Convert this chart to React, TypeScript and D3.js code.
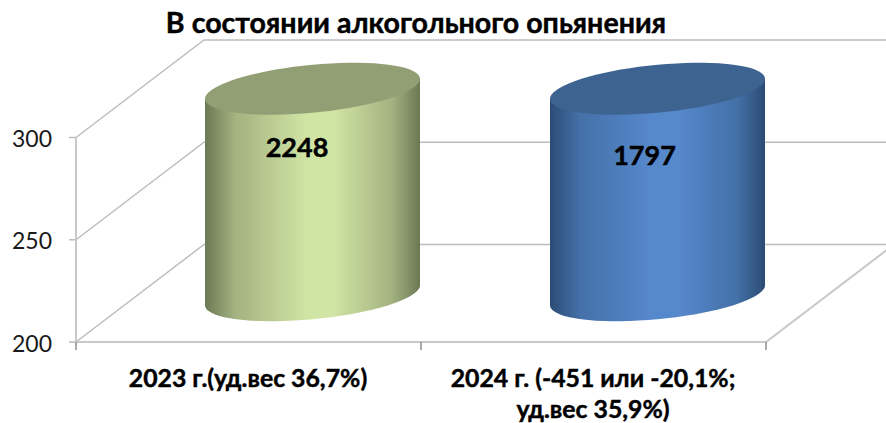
import React from "react";
import * as d3 from "d3";

const title = "В состоянии алкогольного опьянения";
const categories = ["2023 г.(уд.вес 36,7%)", "2024 г. (-451 или -20,1%;|уд.вес 35,9%)"];
const values = [2248, 1797];
const valueLabels = ["2248", "1797"];
const ticks = [200, 250, 300];
const labelOffsets = [-15.5, -13];
const palettes = [
  { edge: "#6b7953", mid: "#d0e4a4", near: "#a3b280", top: "#929f74" },
  { edge: "#2c4c75", mid: "#5688cc", near: "#4470a8", top: "#3e6491" },
];

const FONT = "Lato, 'Open Sans', sans-serif";
const W = 886, H = 423;
const DX = 128, DY = -97.5;
const GRID = "#bdbdbd";

const x = d3.scaleBand<number>().domain([0, 1]).range([76, 766]);
const y = d3.scaleLinear().domain([200, 300]).range([342, 137.5]).clamp(true);

export default function App() {
  const rx = 107.5, ry = 24, shear = 10;
  const ellipse = (cx: number, cy: number) => {
    const pts = d3.range(0, 73).map((i) => {
      const t = (i / 72) * 2 * Math.PI;
      return [cx + rx * Math.cos(t), cy + ry * Math.sin(t) - shear * Math.cos(t)] as [number, number];
    });
    return d3.line()(pts) + "Z";
  };
  const body = (cx: number, top: number, bottom: number) => {
    const front = d3.range(0, 37).map((i) => {
      const t = (i / 36) * Math.PI;
      return [cx + rx * Math.cos(t), bottom + ry * Math.sin(t) - shear * Math.cos(t)] as [number, number];
    });
    const l = d3.line()(front)!;
    return `M${cx + rx},${top - shear}L${cx + rx},${bottom - shear}${l.replace(/^M/, "L")}L${cx - rx},${top + shear}Z`;
  };
  const x0 = x.range()[0], x1 = x.range()[1];
  const heavy = { stroke: "#000", strokeWidth: 0.45 };
  return (
    <svg width={W} height={H} style={{ position: "absolute", left: 0, top: 0 }} fontFamily={FONT}>
      <defs>
        {palettes.map((p, i) => (
          <linearGradient key={i} id={`g${i}`} x1="0" x2="1" y1="0" y2="0">
            <stop offset="0" stopColor={p.edge} />
            <stop offset="0.14" stopColor={p.near} />
            <stop offset="0.47" stopColor={p.mid} />
            <stop offset="0.6" stopColor={p.mid} />
            <stop offset="0.87" stopColor={p.near} />
            <stop offset="1" stopColor={p.edge} />
          </linearGradient>
        ))}
        <filter id="soft" x="-5%" y="-5%" width="110%" height="110%">
          <feGaussianBlur stdDeviation="0.6" />
        </filter>
      </defs>
      <g stroke={GRID} strokeWidth={1.5} fill="none">
        {ticks.map((t) => (
          <g key={t}>
            <path d={`M${x0},${y(t)}L${x0 + DX},${y(t) + DY}L${W},${y(t) + DY}`} />
            <path d={`M${x0 - 7},${y(t)}L${x0},${y(t)}`} />
          </g>
        ))}
        <path d={`M${x0},${y(200)}L${x1},${y(200)}L${x1 + DX},${y(200) + DY}`} strokeWidth={2} stroke="#c8c8c8" />
        <path d={`M${x0},${y(200)}V${y(300)}`} strokeWidth={2} stroke="#c8c8c8" />
        {[x0, x0 + x.bandwidth(), x1].map((v) => (
          <path key={v} d={`M${v},${y(200)}v8`} stroke="#8c8c8c" />
        ))}
      </g>
      {values.map((v, i) => {
        const cx = x(i)! + x.bandwidth() / 2 + DX / 2;
        const top = y(v) + DY / 2;
        const bottom = y(200) + DY / 2 + 2;
        return (
          <g key={i} filter="url(#soft)">
            <path d={body(cx, top, bottom)} fill={`url(#g${i})`} />
            <path d={ellipse(cx, top)} fill={palettes[i].top} />
          </g>
        );
      })}
      {values.map((v, i) => (
        <text key={i} x={x(i)! + x.bandwidth() / 2 + DX / 2 + labelOffsets[i]} y={i === 0 ? 157 : 165}
          textAnchor="middle" fontWeight={700} fontSize={27} fill="#000" {...heavy}>{valueLabels[i]}</text>
      ))}
      <text x={416} y={33} textAnchor="middle" fontWeight={700} fontSize={28.6} fill="#000" {...heavy}>{title}</text>
      {ticks.map((t) => (
        <text key={t} x={52} y={y(t) + 9.5} textAnchor="end" fontSize={23} fill="#1a1a1a">{t}</text>
      ))}
      {categories.map((c, i) =>
        c.split("|").map((line, j) => (
          <text key={j} x={i === 0 ? 248 : 593} y={387 + j * 31} textAnchor="middle" fontWeight={700} fontSize={24.8} fill="#000" {...heavy}>{line}</text>
        ))
      )}
    </svg>
  );
}
